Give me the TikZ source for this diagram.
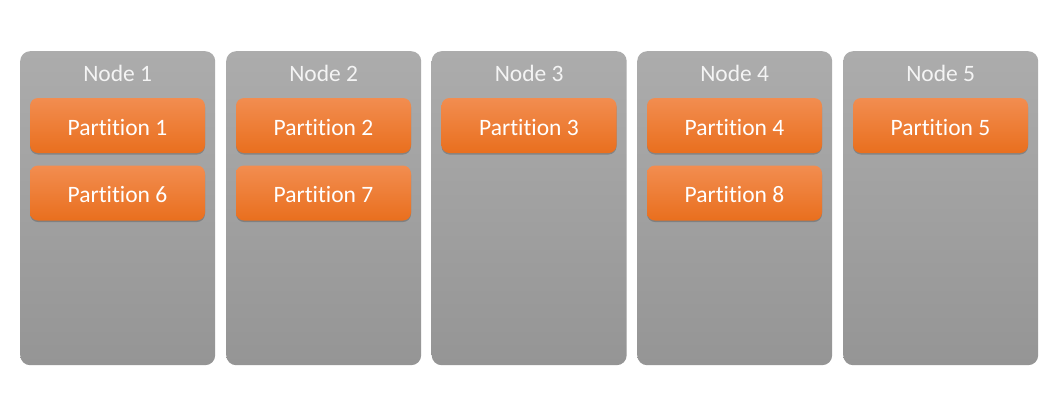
\documentclass[tikz,border=0pt]{standalone}
\usepackage{fontspec}
\setmainfont{Carlito}[RawFeature={-liga;-dlig;-clig;-calt}]
\usetikzlibrary{shadows}
\definecolor{graytop}{HTML}{ACACAC}
\definecolor{graybot}{HTML}{959595}
\definecolor{ortop}{HTML}{F28D50}
\definecolor{orbot}{HTML}{E96F1E}
\definecolor{labelc}{HTML}{F4F4F4}
\begin{document}
\begin{tikzpicture}[x=1pt,y=-1pt,
  column/.style={draw=none, rounded corners=10pt, top color=graytop, bottom color=graybot,
    minimum width=195pt, minimum height=314pt, inner sep=0pt, anchor=north west},
  colname/.style={text=labelc, font=\fontsize{23.5}{26}\selectfont, inner sep=0pt},
  part/.style={draw=none, rounded corners=8pt, top color=ortop, bottom color=orbot,
    minimum width=175pt, minimum height=55pt, inner sep=0pt, text=white,
    text height=19pt, text depth=0pt,
    font=\fontsize{23.5}{26}\selectfont,
    drop shadow={shadow xshift=0pt, shadow yshift=-1.5pt, opacity=0.2, fill=black}}]
\useasboundingbox (0,0) rectangle (1058,416);
\fill[white] (0,0) rectangle (1058,416);
\foreach \i/\x in {1/20,2/226,3/431.5,4/637,5/843}{
  \node[column] (n\i) at (\x,51) {};
  \node[colname] (l\i) at ([yshift=-22pt]n\i.north) {Node \i};
}
\node[part] (p1) at (117.5,125.5) {Partition 1};
\node[part] (p6) at (117.5,193) {Partition 6};
\node[part] (p2) at (323.5,125.5) {Partition 2};
\node[part] (p7) at (323.5,193) {Partition 7};
\node[part] (p3) at (529,125.5) {Partition 3};
\node[part] (p4) at (734.5,125.5) {Partition 4};
\node[part] (p8) at (734.5,193) {Partition 8};
\node[part] (p5) at (940.5,125.5) {Partition 5};
\end{tikzpicture}
\end{document}
